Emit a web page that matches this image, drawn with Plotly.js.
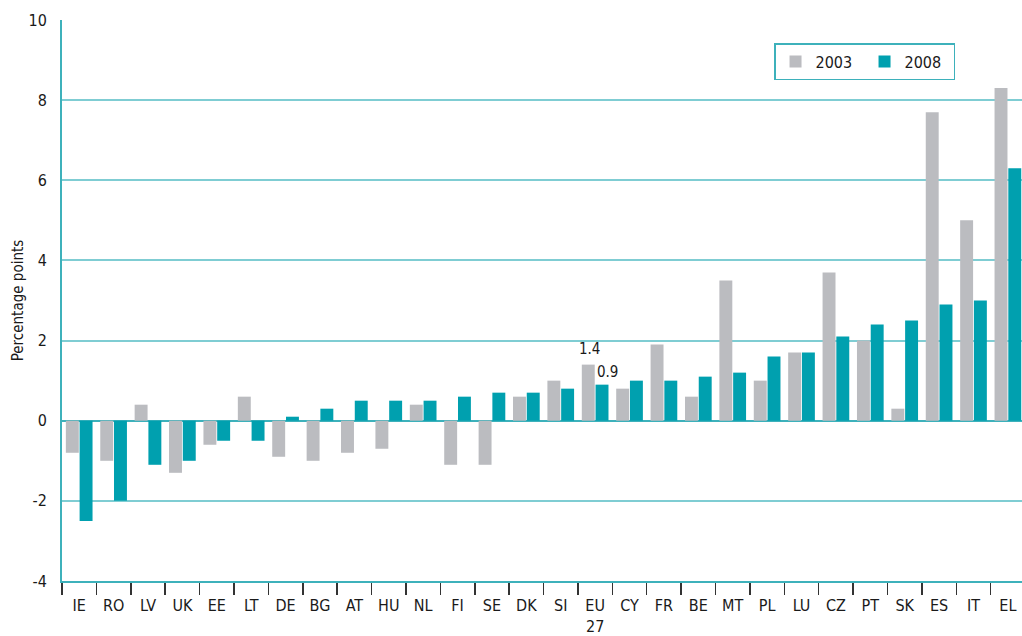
<!DOCTYPE html>
<html>
<head>
<meta charset="utf-8">
<script src="https://cdn.plot.ly/plotly-3.0.1.min.js"></script>
<style>html,body{margin:0;padding:0;background:#fff;}#chart{width:1022px;height:636px;}</style>
</head>
<body>
<div id="chart"></div>
<script>
const categories = ["IE","RO","LV","UK","EE","LT","DE","BG","AT","HU","NL","FI","SE","DK","SI","EU<br>27","CY","FR","BE","MT","PL","LU","CZ","PT","SK","ES","IT","EL"];
const values2003 = [-0.8,-1.0,0.4,-1.3,-0.6,0.6,-0.9,-1.0,-0.8,-0.7,0.4,-1.1,-1.1,0.6,1.0,1.4,0.8,1.9,0.6,3.5,1.0,1.7,3.7,2.0,0.3,7.7,5.0,8.3];
const values2008 = [-2.5,-2.0,-1.1,-1.0,-0.5,-0.5,0.1,0.3,0.5,0.5,0.5,0.6,0.7,0.7,0.8,0.9,1.0,1.0,1.1,1.2,1.6,1.7,2.1,2.4,2.5,2.9,3.0,6.3];
const seriesNames = ["2003","2008"];
const yTicks = [-4,-2,0,2,4,6,8,10];
const labelledCategory = "EU<br>27";

const FONT = '"DejaVu Sans Condensed", "Liberation Sans Narrow", sans-serif';
const GRAY = '#BBBCC0';
const TEAL = '#00A0AF';
const GRID = '#7FCDD3';
const AXIS = '#3DB1BB';

const idx = categories.indexOf(labelledCategory);

const traces = [
  {type:'bar', name:seriesNames[0], x:categories, y:values2003, marker:{color:GRAY}, hoverinfo:'skip'},
  {type:'bar', name:seriesNames[1], x:categories, y:values2008, marker:{color:TEAL}, hoverinfo:'skip'}
];

const layout = {
  width:1022, height:636,
  margin:{l:62, r:0, t:20, b:55, autoexpand:false},
  paper_bgcolor:'#fff', plot_bgcolor:'#fff',
  font:{family:FONT, size:15, color:'#1a1a1a'},
  barmode:'group', bargap:0.2, bargroupgap:0.06,
  showlegend:true,
  legend:{x:0.7417, y:0.959, xanchor:'left', yanchor:'top', orientation:'h',
    bordercolor:AXIS, borderwidth:1.5, bgcolor:'#fff',
    font:{family:FONT, size:16, color:'#1a1a1a'}, entrywidth:44, entrywidthmode:'pixels', tracegroupgap:0},
  xaxis:{type:'category', range:[-0.5, 27.41], showline:true, linecolor:AXIS, linewidth:2,
    ticks:'outside', tickson:'boundaries', ticklen:12, tickcolor:'#333', tickwidth:1.5, tickangle:0,
    ticklabelstandoff:9,
    showgrid:false, tickfont:{family:FONT, size:16, color:'#1a1a1a'}, anchor:'y', fixedrange:true},
  yaxis:{range:[-4,10], tickvals:yTicks, ticktext:yTicks.map(String), showline:true, linecolor:AXIS, linewidth:2,
    showgrid:true, gridcolor:GRID, gridwidth:2, zeroline:true, zerolinecolor:AXIS, zerolinewidth:2,
    ticks:'', ticklabelstandoff:10, tickfont:{family:FONT, size:16, color:'#1a1a1a'},
    title:{text:'Percentage points', font:{family:FONT, size:15, color:'#1a1a1a'}, standoff:1}, fixedrange:true},
  annotations:[
    {x:categories[idx], y:values2003[idx], text:String(values2003[idx]), showarrow:false, yanchor:'bottom', xshift:-6, yshift:5, font:{family:FONT, size:15, color:'#1a1a1a'}},
    {x:categories[idx], y:values2008[idx], text:String(values2008[idx]), showarrow:false, yanchor:'bottom', xshift:12, yshift:2, font:{family:FONT, size:15, color:'#1a1a1a'}}
  ]
};

Plotly.newPlot('chart', traces, layout, {staticPlot:true, displayModeBar:false});
</script>
</body>
</html>
